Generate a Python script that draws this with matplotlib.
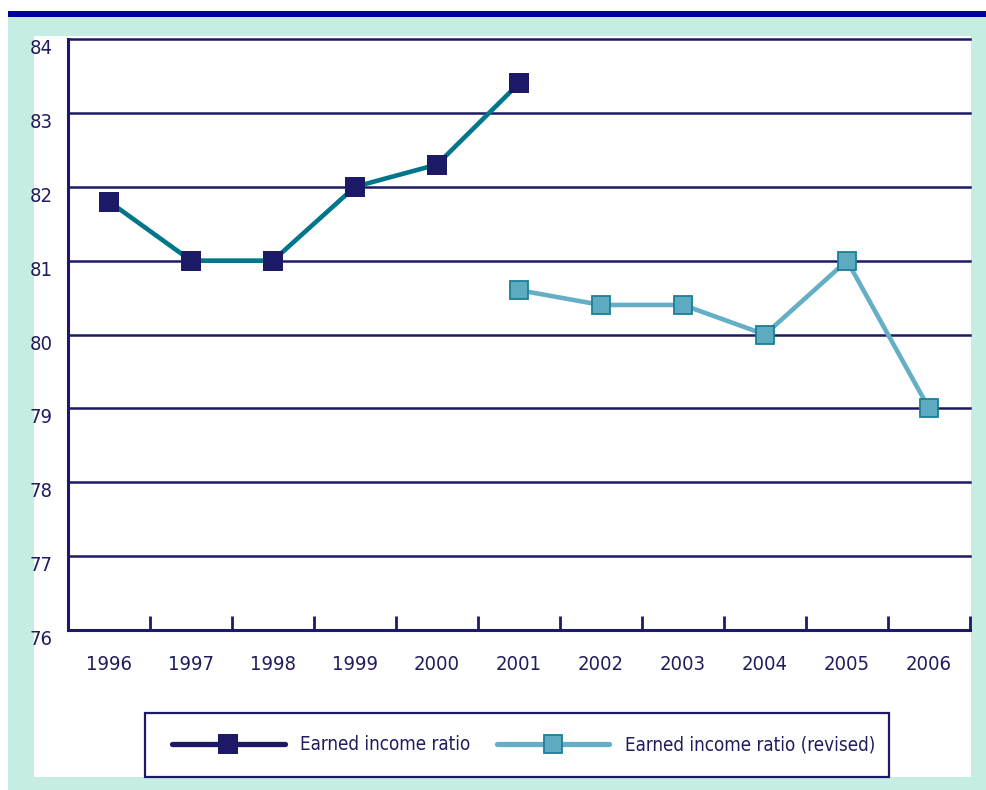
import matplotlib
matplotlib.use("Agg")
import matplotlib.pyplot as plt
import numpy as np
from matplotlib.lines import Line2D
from matplotlib.patches import Rectangle

plt.rcParams['font.family'] = ['DejaVu Sans']
plt.rcParams['font.stretch'] = 'condensed'

years = ["1996", "1997", "1998", "1999", "2000", "2001",
         "2002", "2003", "2004", "2005", "2006"]
ratio = [81.8, 81.0, 81.0, 82.0, 82.3, 83.4]
ratio_revised = [80.6, 80.4, 80.4, 80.0, 81.0, 79.0]
y_ticks = [76, 77, 78, 79, 80, 81, 82, 83, 84]

navy = "#1c1a66"
text_col = "#1f1d5e"
teal = "#00768a"
light = "#64afc6"
light_fill = "#5eaac1"
light_edge = "#1a7f99"
mint = "#c6ede4"

W, H = 987, 790
fig = plt.figure(figsize=(W / 100, H / 100), dpi=100)
fig.patch.set_facecolor("white")

# background frame pieces
fig.patches.append(Rectangle((8 / W, 0), 979 / W, 773 / H, transform=fig.transFigure,
                             facecolor=mint, edgecolor="none", zorder=-10))
fig.patches.append(Rectangle((8 / W, 1 - 17 / H), 979 / W, 6 / H, transform=fig.transFigure,
                             facecolor="#0000a0", edgecolor="none", zorder=-10))
fig.patches.append(Rectangle((34 / W, 1 - 777 / H), 937 / W, 741 / H, transform=fig.transFigure,
                             facecolor="white", edgecolor="none", zorder=-9))

ax = fig.add_axes([68 / W, 1 - 630 / H, 902 / W, 591 / H])
ax.set_facecolor("none")

x1 = np.arange(len(ratio))
x2 = np.arange(len(ratio) - 1, len(years))
ax.plot(x1, ratio, color=teal, lw=3.3, marker="s", ms=14,
        mfc=navy, mec=navy, mew=0, zorder=4, clip_on=False)
ax.plot(x2, ratio_revised, color=light, lw=3.3, marker="s", ms=13.5,
        mfc=light_fill, mec=light_edge, mew=1.3, zorder=4, clip_on=False)

ax.set_xlim(-0.5, len(years) - 0.5)
ax.set_ylim(76, 84)

for v in y_ticks[1:]:
    ax.axhline(v, color=navy, lw=1.8, zorder=2, clip_on=False)

for s in ["top", "right"]:
    ax.spines[s].set_visible(False)
for s in ["left", "bottom"]:
    ax.spines[s].set_color(navy)
    ax.spines[s].set_linewidth(2.2)

ax.set_yticks(y_ticks)
ax.set_yticklabels([str(v) for v in y_ticks])
ax.tick_params(axis="y", length=0, pad=11, labelsize=14.5, labelcolor=text_col)
for lab in ax.get_yticklabels():
    lab.set_verticalalignment("top")

ax.set_xticks(np.arange(len(years)))
ax.set_xticklabels(years)
ax.set_xticks(np.arange(0.5, len(years), 1), minor=True)
ax.tick_params(axis="x", which="major", length=0, pad=18, labelsize=14.5, labelcolor=text_col)
ax.tick_params(axis="x", which="minor", direction="in", length=10, width=2, color=navy)

# legend box
fig.patches.append(Rectangle((145 / W, 1 - 777 / H), 744 / W, 64 / H, transform=fig.transFigure,
                             facecolor="none", edgecolor=navy, lw=1.6, zorder=3))

handles = [
    Line2D([], [], color=navy, lw=3.8, marker="s", ms=14, mfc=navy, mec=navy,
           mew=0, solid_capstyle="round"),
    Line2D([], [], color=light, lw=3.8, marker="s", ms=13.5, mfc=light_fill,
           mec=light_edge, mew=1.3, solid_capstyle="round"),
]
fig.legend(handles, ["Earned income ratio", "Earned income ratio (revised)"],
           loc="center left", bbox_to_anchor=(172 / W, 1 - 745 / H), ncol=2,
           frameon=False, fontsize=13.5, labelcolor=text_col, handlelength=6.0,
           handletextpad=0.85, columnspacing=1.4, borderpad=0, borderaxespad=0)

fig.savefig("out.png", dpi=100, facecolor=fig.get_facecolor())
